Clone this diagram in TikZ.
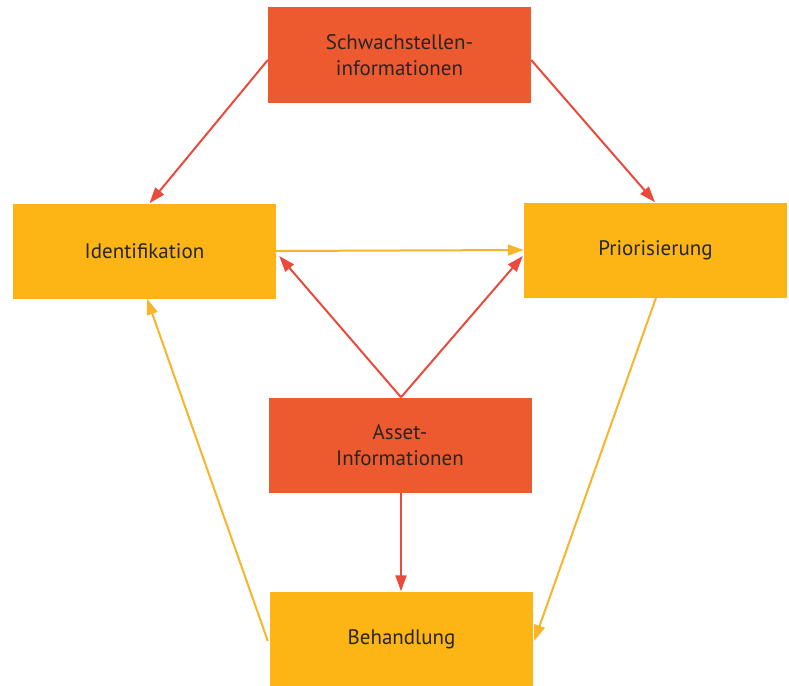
\documentclass[tikz,border=0pt]{standalone}
\usepackage{fontspec}
\setmainfont{PT Sans}
\usetikzlibrary{arrows.meta}
\definecolor{boxred}{HTML}{EE5A30}
\definecolor{boxorange}{HTML}{FDB515}
\definecolor{arrred}{HTML}{E84A3C}
\definecolor{arryel}{HTML}{F6B52A}
\tikzset{
  basebox/.style={draw=none, minimum width=263pt, minimum height=95pt, align=center, font=\fontsize{21}{26}\selectfont, text=black!85, inner sep=0pt},
  redbox/.style={basebox, fill=boxred},
  orangebox/.style={basebox, fill=boxorange},
  redarrow/.style={draw=arrred, line width=2pt, -{Triangle[length=16pt,width=11pt]}},
  yelarrow/.style={draw=arryel, line width=2pt, -{Triangle[length=16pt,width=11pt]}},
}
\begin{document}
\begin{tikzpicture}[x=1pt,y=-1pt]
\useasboundingbox (0,0) rectangle (789,685);
\begin{scope}
\clip (0,0) rectangle (789,685);
\node[redbox] (sw) at (399.5,55) {Schwachstellen-\\informationen};
\node[orangebox] (id) at (144.5,251) {Identifikation};
\node[orangebox] (pr) at (655.5,250) {Priorisierung};
\node[redbox] (as) at (400,445) {Asset-\\Informationen};
\node[orangebox] (be) at (401.5,639) {Behandlung};
\end{scope}
\draw[redarrow] ([yshift=-5pt]sw.west) -- ([xshift=5pt]id.north);
\draw[redarrow] ([yshift=-5pt]sw.east) -- ([xshift=-0.5pt]pr.north);
\draw[yelarrow] (id.east) -- (pr.west);
\draw[redarrow] ([xshift=1pt]as.north) -- ([xshift=3pt,yshift=-5pt]id.east);
\draw[redarrow] ([xshift=1pt]as.north) -- ([xshift=-1pt,yshift=-6pt]pr.west);
\draw[redarrow] ([xshift=1pt]as.south) -- ([xshift=-0.5pt]be.north);
\draw[yelarrow] ([xshift=0.5pt]pr.south) -- ([xshift=1pt,yshift=-2pt]be.east);
\draw[yelarrow] ([xshift=-2pt,yshift=-2pt]be.west) -- ([xshift=2.5pt]id.south);
\end{tikzpicture}
\end{document}
